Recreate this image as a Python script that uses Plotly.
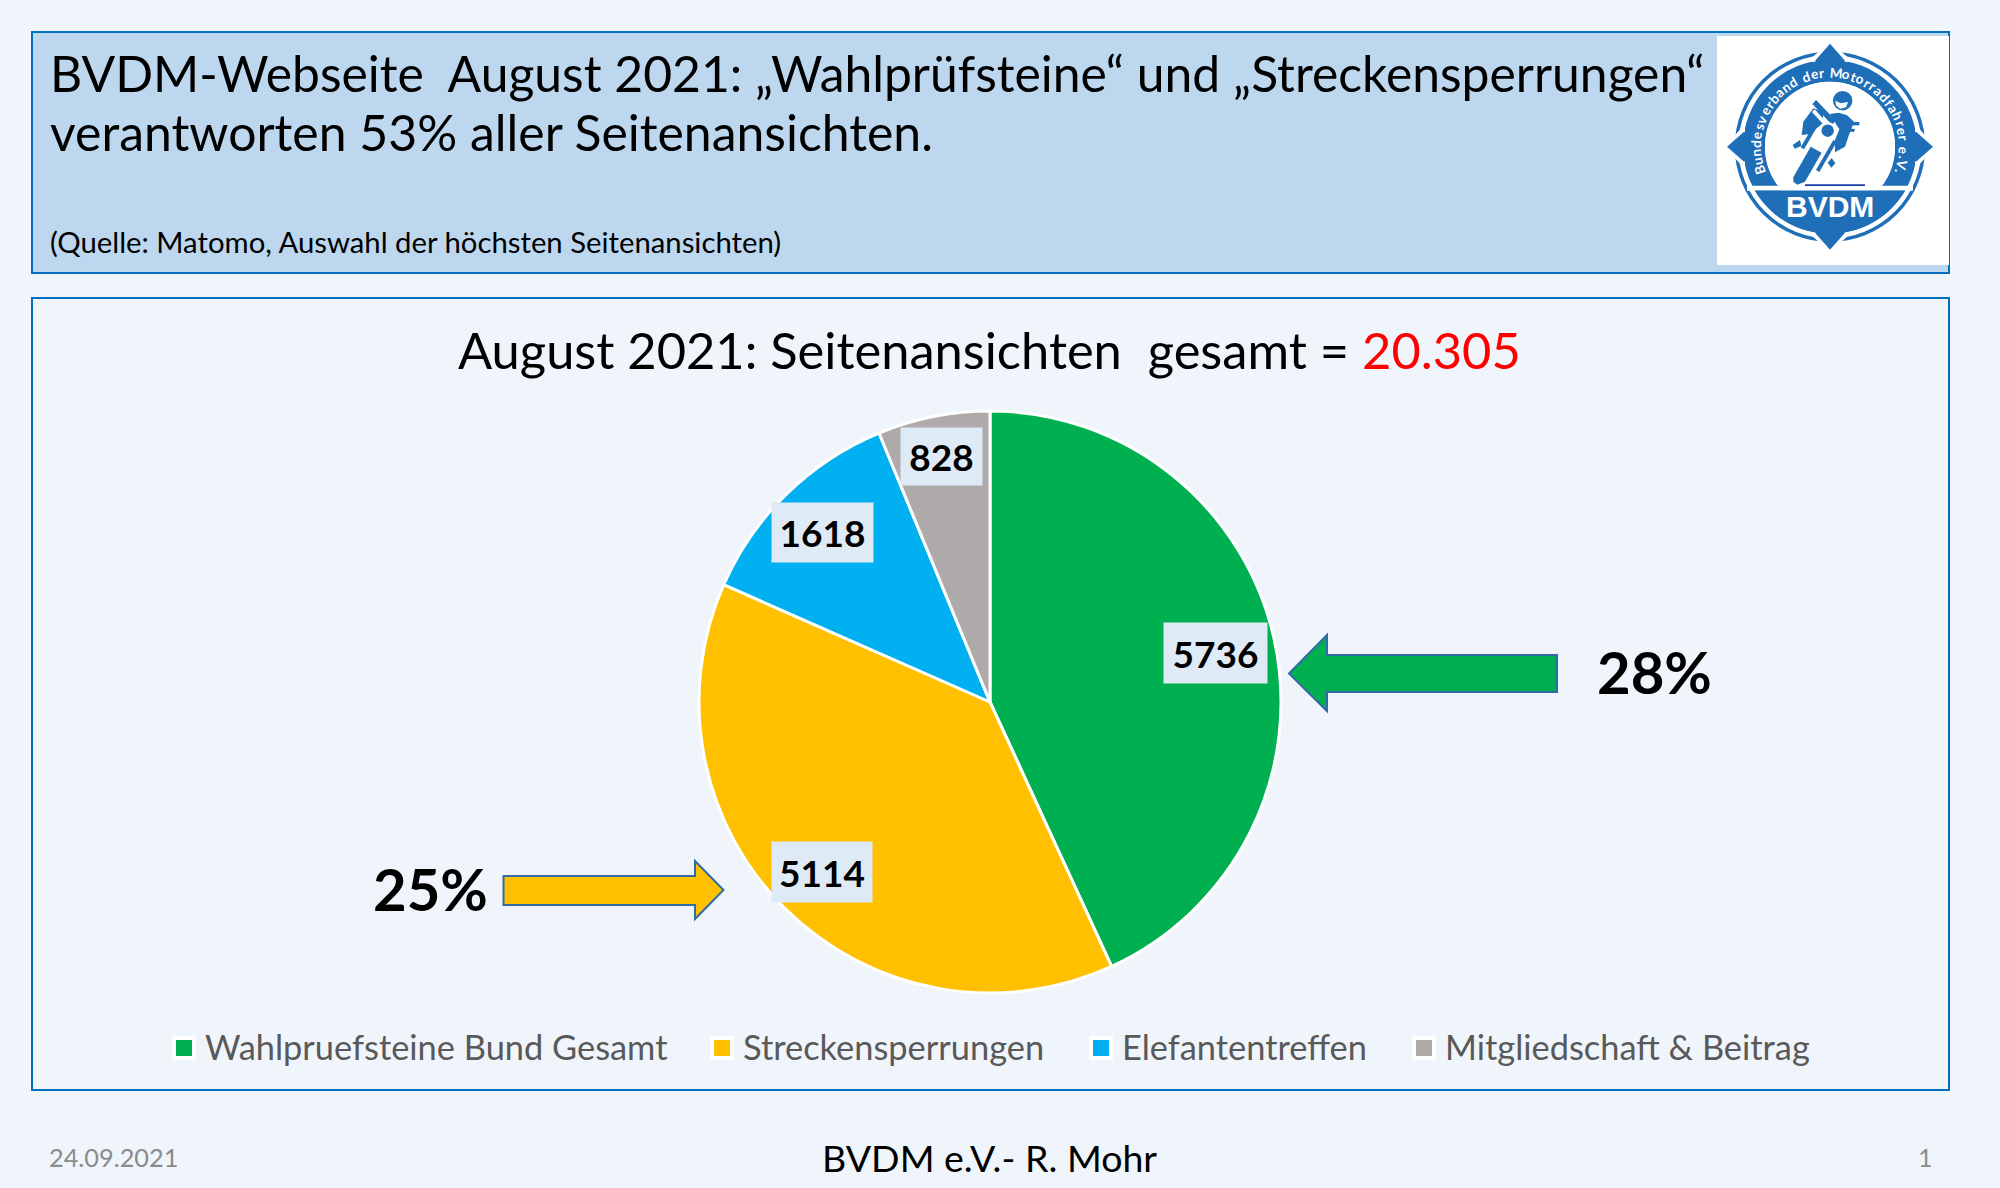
import math
import plotly.graph_objects as go

# ---------- data ----------
categories = ["Wahlpruefsteine Bund Gesamt", "Streckensperrungen", "Elefantentreffen", "Mitgliedschaft & Beitrag"]
values = [5736, 5114, 1618, 828]
slice_colors = ["#00B050", "#FFC000", "#00B0F0", "#AEAAAA"]
label_centers = [(1215.5, 653), (822, 872), (822, 532), (941, 456)]
label_sizes = [(101, 58), (98, 58), (99, 57), (79, 55)]
legend_text_x = [202.5, 740.5, 1119.5, 1442.5]

W, H = 2000, 1188
BG = "#F0F5FC"
BLUE = "#0070C0"
FONT = "Lato"

def X(x): return x / W
def Y(y): return 1 - y / H

def path(points, close=True):
    s = "M" + " L".join(f"{X(a):.5f},{Y(b):.5f}" for a, b in points)
    return s + (" Z" if close else "")

shapes, annos = [], []

def rect(x0, y0, x1, y1, fill=None, line=None, lw=0, layer="below"):
    shapes.append(dict(type="rect", xref="paper", yref="paper", x0=X(x0), x1=X(x1), y0=Y(y0), y1=Y(y1),
                       fillcolor=fill or "rgba(0,0,0,0)", line=dict(color=line or "rgba(0,0,0,0)", width=lw), layer=layer))

def poly(points, fill, line=None, lw=0):
    shapes.append(dict(type="path", xref="paper", yref="paper", path=path(points), fillcolor=fill,
                       line=dict(color=line or "rgba(0,0,0,0)", width=lw), layer="above"))

def circle(cx, cy, r, fill=None, line=None, lw=0):
    shapes.append(dict(type="circle", xref="paper", yref="paper", x0=X(cx - r), x1=X(cx + r), y0=Y(cy - r), y1=Y(cy + r),
                       fillcolor=fill or "rgba(0,0,0,0)", line=dict(color=line or "rgba(0,0,0,0)", width=lw), layer="above"))

def text(x, y, s, size, color="#000000", anchor="left", bold=False, font=FONT, **kw):
    annos.append(dict(xref="paper", yref="paper", x=X(x), y=Y(y), text=s, showarrow=False, xanchor=anchor,
                      yanchor="middle", font=dict(family=font, size=size, color=color, weight=700 if bold else 400), **kw))

# ---------- panels ----------
rect(32, 32, 1949, 273, "#BDD7EE", BLUE, 2)
rect(32, 298, 1949, 1090, None, BLUE, 2)
rect(1717, 36, 1949, 265, "#FFFFFF", layer="above")

text(48, 73, "BVDM-Webseite\u00a0\u00a0August 2021: \u201eWahlpr\u00fcfsteine\u201c und \u201eStreckensperrungen\u201c", 49.8)
text(48, 132, "verantworten 53% aller Seitenansichten.", 49.9)
text(48, 241, "(Quelle: Matomo, Auswahl der h\u00f6chsten Seitenansichten)", 29.3)
text(989, 350, "August 2021: Seitenansichten\u00a0\u00a0gesamt = <span style='color:#FF0000'>20.305</span>", 50.6, anchor="center")

# ---------- value boxes, read from the values list ----------
for v, (cx, cy), (w, h) in zip(values, label_centers, label_sizes):
    annos.append(dict(xref="paper", yref="paper", x=X(cx), y=Y(cy), text=str(v), showarrow=False, xanchor="center",
                      yanchor="middle", width=w, height=h, bgcolor="#DEEAF6",
                      font=dict(family=FONT, size=37, color="#000000", weight=700)))

# ---------- arrows ----------
ARROW = "#2F6CA6"
poly([(1289, 673.5), (1327, 635), (1327, 655), (1557, 655), (1557, 692), (1327, 692), (1327, 711)], "#00B050", ARROW, 2)
poly([(503.5, 876), (695, 876), (695, 861), (723.5, 890), (695, 919), (695, 905), (503.5, 905)], "#FFC000", ARROW, 2)
text(1654, 671, "28%", 58, anchor="center", bold=True)
text(430, 888, "25%", 58, anchor="center", bold=True)

# ---------- legend ----------
for name, col, tx in zip(categories, slice_colors, legend_text_x):
    rect(tx - 28.5, 1038, tx - 8.5, 1058, col, "#FFFFFF", 4, layer="above")
    text(tx, 1046, name, 34.4, "#595959")

# ---------- footer ----------
text(47, 1157, "24.09.2021", 25.3, "#8B8B8B")
text(989, 1157, "BVDM e.V.- R. Mohr", 37.5, anchor="center")
text(1925, 1157, "1", 25, "#8B8B8B", anchor="center")

# ---------- logo ----------
LOGO = "#1F6FB8"
CX, CY = 1830, 146.7
def bp(pts): return [(1780 + a / 3, 90 + b / 3) for a, b in pts]

circle(CX, CY, 93.5, None, LOGO, 3.5)
circle(CX, CY, 76, None, LOGO, 22)
for ang in (0, 90, 180, 270):
    ca, sa = math.cos(math.radians(ang)), math.sin(math.radians(ang))
    def rot(r, t): return (CX + r * ca - t * sa, CY + r * sa + t * ca)
    poly([rot(104, 0), rot(86, 20), rot(86, -20)], "#FFFFFF", "#FFFFFF", 2)
    poly([rot(103, 0), rot(86, 15), rot(64, 0), rot(86, -15)], LOGO)
circle(CX, CY, 65, "#FFFFFF")
poly([(CX - 83, CY + 39), (CX + 83, CY + 39), (CX + 83, CY + 44), (CX - 83, CY + 44)], "#FFFFFF")
seg = []
for i in range(41):
    a = math.radians(30.15 + (180 - 60.3) * i / 40)
    seg.append((CX + 87 * math.cos(a), CY + 87 * math.sin(a)))
poly(seg, LOGO)

# rider & motorcycle
poly(bp([(65, 135), (70, 95), (100, 55), (130, 65), (128, 100), (90, 132)]), LOGO)
poly(bp([(150, 72), (175, 68), (200, 75), (222, 95), (205, 140), (195, 170), (165, 187), (165, 150), (178, 118)]), LOGO)
poly(bp([(97, 42), (108, 30), (168, 92), (156, 104)]), LOGO)
poly(bp([(96, 66), (104, 58), (146, 104), (138, 112)]), "#FFFFFF")
poly(bp([(170, 96), (238, 96), (238, 106), (170, 108)]), LOGO)
poly(bp([(190, 112), (225, 118), (222, 126), (190, 124)]), LOGO)
poly(bp([(40, 262), (92, 170), (125, 188), (75, 275), (52, 284), (40, 275)]), LOGO)
poly(bp([(62, 172), (98, 110), (108, 116), (72, 178)]), LOGO)
poly(bp([(108, 240), (160, 150), (170, 156), (118, 246)]), LOGO)
poly(bp([(38, 165), (60, 150), (64, 168), (44, 176)]), LOGO)
poly(bp([(143, 218), (155, 204), (166, 220), (154, 233)]), LOGO)
circle(1780 + 143 / 3, 90 + 122 / 3, 7.5, LOGO, "#FFFFFF", 2.5)
circle(1780 + 188 / 3, 90 + 32 / 3, 10.5, LOGO, "#FFFFFF", 1.5)
poly(bp([(166, 32), (182, 40), (204, 36), (198, 52), (180, 56), (168, 46)]), "#FFFFFF")
poly(bp([(75, 283), (255, 283), (255, 288), (75, 288)]), "#1A3FA8")

text(CX, 206, "BVDM", 30, "#FFFFFF", anchor="center", bold=True, font="Liberation Sans")
ring_text = "Bundesverband der Motorradfahrer e.V."
def weight(c):
    if c in " .": return 0.6
    if c in "rtf": return 0.75
    if c in "mM": return 1.4
    if c in "BVD": return 1.15
    return 1.0
total = sum(weight(c) for c in ring_text)
acc = 0.0
for ch in ring_text:
    w = weight(ch)
    a = -112 + 224 * (acc + w / 2) / total
    acc += w
    if ch == " ":
        continue
    px = CX + 74 * math.sin(math.radians(a))
    py = CY - 74 * math.cos(math.radians(a))
    annos.append(dict(xref="paper", yref="paper", x=X(px), y=Y(py), text=ch, showarrow=False,
                      xanchor="center", yanchor="middle", textangle=a,
                      font=dict(family=FONT, size=13.5, color="#FFFFFF", weight=700)))

# ---------- pie ----------
R = 291
PX, PY = 990, 702
fig = go.Figure(go.Pie(
    labels=categories, values=values, sort=False, direction="clockwise", rotation=0,
    textinfo="none", hoverinfo="label+value",
    marker=dict(colors=slice_colors, line=dict(color="#FFFFFF", width=3)),
    domain=dict(x=[X(PX - R), X(PX + R)], y=[Y(PY + R), Y(PY - R)]),
))
fig.update_layout(
    width=W, height=H, margin=dict(l=0, r=0, t=0, b=0), paper_bgcolor=BG, plot_bgcolor=BG,
    shapes=shapes, annotations=annos, showlegend=False,
)
fig.write_html("out.html", config=dict(displayModeBar=False),
               post_script="document.body.style.margin='0';document.body.style.overflow='hidden';")
